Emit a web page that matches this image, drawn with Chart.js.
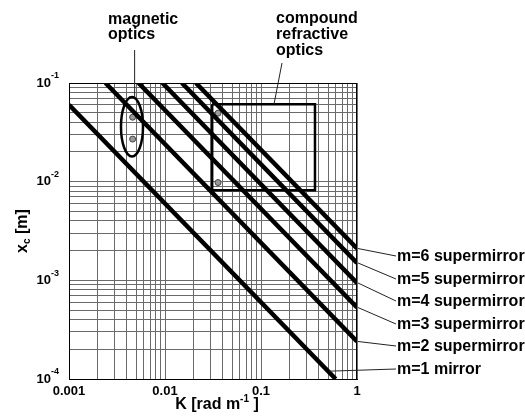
<!DOCTYPE html>
<html>
<head>
<meta charset="utf-8">
<script src="https://cdn.jsdelivr.net/npm/chart.js@4/dist/chart.umd.min.js"></script>
<style>
html, body { margin: 0; padding: 0; background: #fff; }
#wrap { width: 525px; height: 416px; }
</style>
</head>
<body>
<div id="wrap"><canvas id="chart" width="525" height="416"></canvas></div>
<script>
// series: reflective lines, x_c ~ 1/K, start and end points
var mirrorLabels = ['m=1 mirror', 'm=2 supermirror', 'm=3 supermirror', 'm=4 supermirror', 'm=5 supermirror', 'm=6 supermirror'];
var startK  = [0.001, 0.0024, 0.0053, 0.0094, 0.015, 0.021];
var startXc = [0.06, 0.1, 0.1, 0.1, 0.1, 0.1];
var endK    = [0.6, 1, 1, 1, 1, 1];
var endXc   = [1e-4, 2.4e-4, 5.3e-4, 9.4e-4, 1.5e-3, 2.1e-3];
// where the leader of each label touches its line, and where the label sits (px)
var leaderK  = [0.5, 1, 1, 1, 1, 1];
var leaderXc = [1.2e-4, 2.4e-4, 5.3e-4, 9.4e-4, 1.5e-3, 2.1e-3];
var labelY   = [370, 347, 325, 302, 280, 257];

// magnetic optics points + ellipse round them
var magneticK  = [0.0046, 0.0046];
var magneticXc = [0.045, 0.027];
var ellipseK   = [0.00348, 0.0059];
var ellipseXc  = [0.018, 0.072];

// compound refractive optics points + box
var crlK  = [0.0357, 0.0357];
var crlXc = [0.0495, 0.0098];
var boxK  = [0.031, 0.365];
var boxXc = [0.0082, 0.061];

// axes
var kDecades  = [0.001, 0.01, 0.1, 1];
var kLabels   = ['0.001', '0.01', '0.1', '1'];
var xcDecades = [1e-4, 1e-3, 1e-2, 1e-1];
var xcExp     = ['-4', '-3', '-2', '-1'];

var FONT = '"Liberation Sans", Arial, Helvetica, sans-serif';

function minorTicks(decades) {
    var out = [];
    for (var i = 0; i < decades.length; i++) {
        if (i == decades.length - 1) {
            out.push(decades[i]);
            break;
        }
        for (var s = 1; s <= 9; s++) {
            out.push(+(s * decades[i]).toPrecision(6));
        }
    }
    return out;
}

var kTicks = minorTicks(kDecades);
var xcTicks = minorTicks(xcDecades);

var datasets = [];
for (var i = 0; i < mirrorLabels.length; i++) {
    datasets.push({
        label: mirrorLabels[i],
        data: [{x: startK[i], y: startXc[i]}, {x: endK[i], y: endXc[i]}],
        showLine: true,
        borderColor: '#000',
        borderWidth: 4.5,
        pointRadius: 0
    });
}
datasets.push({
    label: 'CRL box',
    data: [
        {x: boxK[0], y: boxXc[1]}, {x: boxK[1], y: boxXc[1]},
        {x: boxK[1], y: boxXc[0]}, {x: boxK[0], y: boxXc[0]},
        {x: boxK[0], y: boxXc[1]}
    ],
    showLine: true,
    borderColor: '#000',
    borderWidth: 2.5,
    pointRadius: 0
});
datasets.push({
    label: 'magnetic',
    data: magneticK.map(function(k, j) { return {x: k, y: magneticXc[j]}; }),
    showLine: false,
    pointRadius: 3,
    backgroundColor: '#9a9a9a',
    borderColor: '#444',
    borderWidth: 1
});
datasets.push({
    label: 'crl',
    data: crlK.map(function(k, j) { return {x: k, y: crlXc[j]}; }),
    showLine: false,
    pointRadius: 3,
    backgroundColor: '#9a9a9a',
    borderColor: '#444',
    borderWidth: 1
});

function isDecade(v) {
    var l = Math.log10(v);
    return Math.abs(l - Math.round(l)) < 1e-9;
}

// draws the texts with sub/superscripts, the ellipse, the frame and leader lines
var extras = {
    id: 'extras',
    afterDatasetsDraw: function(chart) {
        var ctx = chart.ctx,
            xs = chart.scales.x,
            ys = chart.scales.y,
            area = chart.chartArea;

        ctx.save();

        // frame
        ctx.strokeStyle = '#000';
        ctx.lineWidth = 1;
        ctx.strokeRect(area.left + 0.5, area.top + 0.5, area.right - area.left - 1, area.bottom - area.top);

        // ellipse
        var ex0 = xs.getPixelForValue(ellipseK[0]), ex1 = xs.getPixelForValue(ellipseK[1]);
        var ey0 = ys.getPixelForValue(ellipseXc[0]), ey1 = ys.getPixelForValue(ellipseXc[1]);
        ctx.beginPath();
        ctx.ellipse((ex0 + ex1) / 2, (ey0 + ey1) / 2, Math.abs(ex1 - ex0) / 2, Math.abs(ey0 - ey1) / 2, 0, 0, Math.PI * 2);
        ctx.lineWidth = 2.5;
        ctx.stroke();

        // y tick labels 10^n
        ctx.fillStyle = '#000';
        ctx.textBaseline = 'middle';
        for (var i = 0; i < xcDecades.length; i++) {
            var py = ys.getPixelForValue(xcDecades[i]);
            ctx.font = 'bold 13px ' + FONT;
            ctx.textAlign = 'right';
            ctx.fillText('10', 51, py);
            ctx.font = 'bold 9px ' + FONT;
            ctx.textAlign = 'left';
            ctx.fillText(xcExp[i], 51, py - 7);
        }

        // y title  x_c [m]
        ctx.save();
        ctx.translate(23, 231);
        ctx.rotate(-Math.PI / 2);
        ctx.textAlign = 'left';
        ctx.font = 'bold 16px ' + FONT;
        var w1 = ctx.measureText('x').width;
        ctx.font = 'bold 10px ' + FONT;
        var w2 = ctx.measureText('c').width;
        ctx.font = 'bold 16px ' + FONT;
        var w3 = ctx.measureText(' [m]').width;
        var sx = -(w1 + w2 + w3) / 2;
        ctx.fillText('x', sx, 0);
        ctx.font = 'bold 10px ' + FONT;
        ctx.fillText('c', sx + w1, 4);
        ctx.font = 'bold 16px ' + FONT;
        ctx.fillText(' [m]', sx + w1 + w2, 0);
        ctx.restore();

        // x title  K [rad m^-1 ]
        ctx.textAlign = 'left';
        ctx.font = 'bold 16px ' + FONT;
        var a = ctx.measureText('K [rad m').width;
        ctx.font = 'bold 10px ' + FONT;
        var b = ctx.measureText('-1').width;
        ctx.font = 'bold 16px ' + FONT;
        var c = ctx.measureText(' ]').width;
        var tx = 217 - (a + b + c) / 2;
        ctx.fillText('K [rad m', tx, 405);
        ctx.font = 'bold 10px ' + FONT;
        ctx.fillText('-1', tx + a, 399);
        ctx.font = 'bold 16px ' + FONT;
        ctx.fillText(' ]', tx + a + b, 405);

        // leader lines + labels on the right
        ctx.lineWidth = 1;
        ctx.strokeStyle = '#222';
        ctx.font = 'bold 16px ' + FONT;
        for (var j = 0; j < mirrorLabels.length; j++) {
            var lx = xs.getPixelForValue(leaderK[j]);
            var ly = ys.getPixelForValue(leaderXc[j]);
            ctx.beginPath();
            ctx.moveTo(lx + 1, ly);
            ctx.lineTo(396, labelY[j] - 1);
            ctx.stroke();
            ctx.fillText(mirrorLabels[j], 397, labelY[j]);
        }

        // magnetic optics
        ctx.fillText('magnetic', 108, 20);
        ctx.fillText('optics', 108, 35);
        var mx = xs.getPixelForValue(magneticK[0]);
        ctx.beginPath();
        ctx.moveTo(mx + 2, 50);
        ctx.lineTo(mx + 2, ey1);
        ctx.stroke();

        // compound refractive optics
        ctx.fillText('compound', 276, 19);
        ctx.fillText('refractive', 276, 35);
        ctx.fillText('optics', 276, 51);
        ctx.beginPath();
        ctx.moveTo(282, 63);
        ctx.lineTo(274, ys.getPixelForValue(boxXc[1]));
        ctx.stroke();

        ctx.restore();
    }
};

new Chart(document.getElementById('chart').getContext('2d'), {
    type: 'scatter',
    data: { datasets: datasets },
    options: {
        responsive: false,
        animation: false,
        layout: { padding: { left: 69, top: 83, right: 168, bottom: 0 } },
        plugins: {
            legend: { display: false },
            tooltip: { enabled: false }
        },
        scales: {
            x: {
                type: 'logarithmic',
                min: 0.001,
                max: 1,
                afterBuildTicks: function(scale) {
                    scale.ticks = kTicks.map(function(v) { return {value: v, major: isDecade(v)}; });
                },
                afterFit: function(scale) { scale.height = 37; },
                grid: { color: '#6a6a6a', lineWidth: 1, drawTicks: false },
                border: { color: '#000' },
                ticks: {
                    autoSkip: false,
                    maxRotation: 0,
                    padding: 5,
                    color: '#000',
                    font: { family: FONT, size: 13, weight: 'bold' },
                    callback: function(value) {
                        var idx = kDecades.indexOf(value);
                        return idx >= 0 ? kLabels[idx] : '';
                    }
                }
            },
            y: {
                type: 'logarithmic',
                min: 1e-4,
                max: 0.1,
                afterBuildTicks: function(scale) {
                    scale.ticks = xcTicks.map(function(v) { return {value: v, major: isDecade(v)}; });
                },
                afterFit: function(scale) { scale.width = 0; },
                grid: { color: '#6a6a6a', lineWidth: 1, drawTicks: false },
                border: { color: '#000' },
                ticks: { display: false }
            }
        }
    },
    plugins: [extras]
});
</script>
</body>
</html>
